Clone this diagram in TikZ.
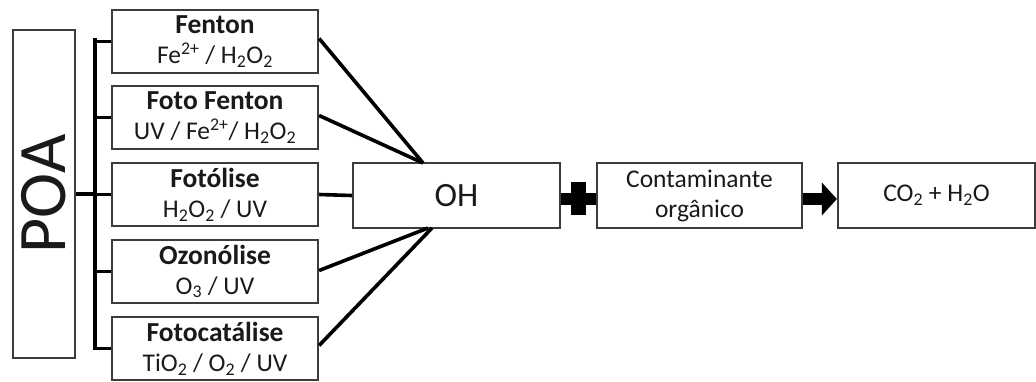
\documentclass[tikz,border=0pt]{standalone}
\usepackage{fontspec}
\setmainfont{Carlito}
\usetikzlibrary{arrows.meta,calc}
\definecolor{ink}{HTML}{1A1A1A}
\tikzset{
  box/.style={draw=ink!85, line width=2.2pt, fill=white, inner sep=0pt,
    align=center, text=ink, font=\fontsize{25.5}{30}\selectfont},
  leftbox/.style={box, minimum width=206pt, minimum height=63pt},
  chainbox/.style={box, minimum height=65pt},
  wire/.style={draw=black, line width=3.6pt},
}
\newcommand{\sub}[1]{\textsubscript{#1}}
\newcommand{\sps}[1]{\textsuperscript{#1}}
\newcommand{\ttl}[1]{{\fontsize{27.5}{30}\selectfont\bfseries #1}}
\begin{document}
\begin{tikzpicture}[x=1pt, y=-1pt]
\useasboundingbox (0,0) rectangle (1036,381);

% Umbrella term, set vertically
\node[box, minimum width=62pt, minimum height=328pt] (poa) at (44,194) {};
\node[rotate=90, text=ink, font=\fontsize{68}{68}\selectfont] (poalabel) at (44,194) {POA};

% Process boxes
\node[leftbox] (fenton) at (215,41.5) {\ttl{Fenton}\\Fe\sps{2+} / H\sub{2}O\sub{2}};
\node[leftbox] (foto) at (215,117.5) {\ttl{Foto Fenton}\\UV / Fe\sps{2+}/ H\sub{2}O\sub{2}};
\node[leftbox] (fotolise) at (215,194.5) {\ttl{Fotólise}\\H\sub{2}O\sub{2} / UV};
\node[leftbox] (ozono) at (215,271.5) {\ttl{Ozonólise}\\O\sub{3} / UV};
\node[leftbox] (cat) at (215,348.5) {\ttl{Fotocatálise}\\TiO\sub{2} / O\sub{2} / UV};

% Reaction chain
\node[chainbox, minimum width=207pt, font=\fontsize{34}{34}\selectfont] (oh) at (456.5,195.5) {OH};
\node[chainbox, minimum width=205pt] (cont) at (699.5,195.5) {Contaminante\\orgânico};
\node[chainbox, minimum width=197pt] (prod) at (936.5,195.5) {CO\sub{2} + H\sub{2}O};

% Bracket joining the processes
\coordinate (bt) at (95,40);
\coordinate (bb) at (95,348);
\coordinate (bm) at (95,194);
\draw[wire] (poa.east |- bm) -- (bm);
\draw[wire, line cap=rect] (bt) -- (bb);
\foreach \n in {fenton,foto,fotolise,ozono,cat}
  \draw[wire] (bt |- \n.west) -- (\n.west);

% Converging lines into OH
\coordinate (ohtop) at (423,163);
\coordinate (ohbot) at (428,228);
\draw[wire] ([yshift=3pt]fenton.east) -- (ohtop);
\draw[wire] ([yshift=2pt]foto.east) -- (ohtop);
\draw[wire] (fotolise.east) -- (oh.west);
\draw[wire] ([yshift=1pt]ozono.east) -- (ohbot);
\draw[wire] ([yshift=3pt]cat.east) -- ([xshift=4pt]ohbot);

% Plus sign between OH and the contaminant
\draw[black, line width=12pt] ([yshift=-3.5pt]oh.east) -- ([yshift=-3.5pt]cont.west);
\coordinate (plusc) at ($(oh.east)!0.5!(cont.west)+(0,3)$);
\fill[black] ($(plusc)+(-7.5,-16.5)$) rectangle ($(plusc)+(7.5,16.5)$);

% Arrow to the products
\draw[black, line width=12pt, -{Triangle[length=15pt, width=32pt]}]
  ([yshift=-3.5pt]cont.east) -- ([yshift=-3.5pt]prod.west);
\end{tikzpicture}
\end{document}
